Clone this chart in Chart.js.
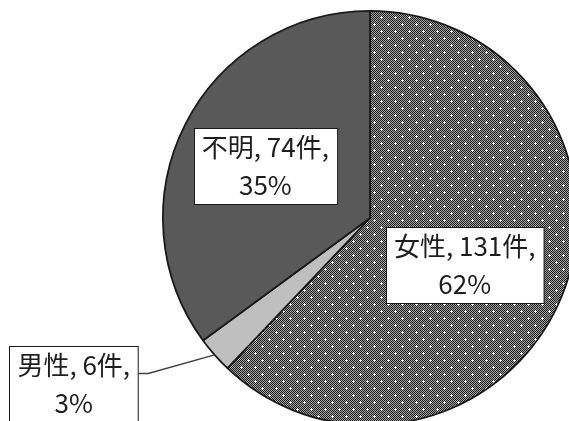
<!DOCTYPE html>
<html>
<head>
<meta charset="utf-8">
<script src="https://cdn.jsdelivr.net/npm/chart.js@4.4.1/dist/chart.umd.min.js"></script>
<style>
  html, body { margin: 0; padding: 0; background: #ffffff; overflow: hidden; }
  #wrap { position: relative; width: 569px; height: 421px; overflow: hidden; }
  #chart { position: absolute; left: 0; top: 0; }
</style>
</head>
<body>
<div id="wrap"><canvas id="chart" width="600" height="450"></canvas></div>
<script>
// Respondents by gender
const categories = ['女性', '男性', '不明'];
const counts = [131, 6, 74];
const percents = [62, 3, 35];

// Fine checkerboard with a diamond grid of white dots
function makeDotPattern() {
  const c = document.createElement('canvas');
  c.width = 14; c.height = 14;
  const g = c.getContext('2d');
  for (let y = 0; y < 14; y++) {
    for (let x = 0; x < 14; x++) {
      g.fillStyle = (x + y) % 2 === 0 ? '#1c1c1c' : '#a6a6a6';
      g.fillRect(x, y, 1, 1);
    }
  }
  g.fillStyle = '#ffffff';
  [[3, 3], [10, 10]].forEach(([cx, cy]) => {
    g.fillRect(cx - 1, cy, 3, 1);
    g.fillRect(cx, cy - 1, 1, 3);
  });
  return g.createPattern(c, 'repeat');
}

const ctx = document.getElementById('chart').getContext('2d');

// Label placement: angle shift (deg) from the slice middle, distance in radii,
// and whether the label sits outside with a leader line
const labelPlace = [
  { shift: 4.5, dist: 0.51, leader: false },
  { shift: 12.1, dist: 1.64, leader: true },
  { shift: -0.3, dist: 0.565, leader: false }
];

const boxLabels = {
  id: 'boxLabels',
  afterDatasetsDraw(chart) {
    const g = chart.ctx;
    const meta = chart.getDatasetMeta(0);
    const fontSize = 26;
    g.save();
    g.font = fontSize + 'px "Noto Sans CJK JP", "Noto Sans", sans-serif';
    g.textAlign = 'center';
    g.textBaseline = 'middle';
    meta.data.forEach((arc, i) => {
      const p = labelPlace[i];
      const mid = (arc.startAngle + arc.endAngle) / 2;
      const a = mid + p.shift * Math.PI / 180;
      const r = arc.outerRadius;
      const cx = arc.x + Math.cos(a) * r * p.dist;
      const cy = arc.y + Math.sin(a) * r * p.dist;
      const line1 = categories[i] + ', ' + counts[i] + '件,';
      const line2 = percents[i] + '%';
      const w = Math.max(g.measureText(line1).width, g.measureText(line2).width) + 16;
      const h = 76;
      const bx = Math.round(cx - w / 2) + 0.5;
      const by = Math.round(cy - h / 2) + 0.5;
      if (p.leader) {
        const ex = arc.x + Math.cos(mid) * r;
        const ey = arc.y + Math.sin(mid) * r;
        const sx = bx + w;
        const sy = by + h / 2 - 11;
        g.strokeStyle = '#404040';
        g.lineWidth = 1.5;
        g.beginPath();
        g.moveTo(sx, sy);
        g.lineTo(sx + 10, sy);
        g.lineTo(ex, ey);
        g.stroke();
      }
      g.fillStyle = '#ffffff';
      g.fillRect(bx, by, w, h);
      g.strokeStyle = '#1a1a1a';
      g.lineWidth = 1;
      g.strokeRect(bx, by, w, h);
      g.fillStyle = '#1e1e1e';
      g.fillText(line1, cx, by + 19);
      g.fillText(line2, cx, by + h - 19);
    });
    g.restore();
  }
};

new Chart(ctx, {
  type: 'pie',
  data: {
    labels: categories,
    datasets: [{
      data: counts,
      backgroundColor: [makeDotPattern(), '#bfbfbf', '#595959'],
      borderColor: '#1a1a1a',
      borderWidth: 1.8
    }]
  },
  options: {
    responsive: false,
    animation: false,
    devicePixelRatio: 1,
    rotation: 0,
    layout: { padding: { left: 162, right: 22, top: 10, bottom: 24 } },
    plugins: {
      legend: { display: false },
      tooltip: { enabled: false }
    }
  },
  plugins: [boxLabels]
});
</script>
</body>
</html>
